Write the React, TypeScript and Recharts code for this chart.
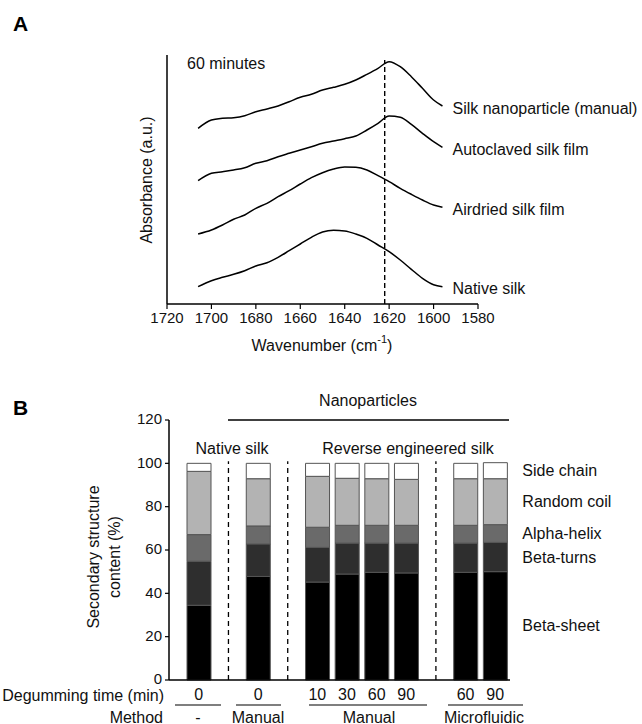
import React from 'react'
import { LineChart, Line, BarChart, Bar, XAxis, YAxis, ReferenceLine, LabelList } from 'recharts'

// Panel A: FTIR spectra (60 min), a.u. values
const wavenumbers = [1706, 1700, 1695, 1690, 1685, 1680, 1675, 1670, 1665, 1660, 1655, 1650, 1645, 1640, 1635, 1630, 1625, 1620, 1615, 1610, 1605, 1600, 1596]
const nanoManual = [175.7, 184, 185.7, 186.3, 188.3, 192.3, 195, 198, 202.3, 206.7, 209.7, 214, 216.7, 219.7, 224, 229.7, 235.7, 242.3, 237.3, 227.3, 215.7, 204, 198]
const autoclaved = [123.3, 130.7, 132.3, 134, 136.3, 140.7, 143.3, 147.3, 150.7, 154, 157.3, 160.7, 163, 165.3, 168, 174, 180.7, 188, 186.7, 179.7, 170.7, 162.3, 156.7]
const airdried = [70, 74, 79, 84.7, 89, 95.7, 100.7, 107.3, 113.3, 120, 126.3, 131.3, 135, 137, 136.7, 134, 128.3, 122.3, 115.7, 109.7, 104, 99, 96.7]
const nativeSilk = [17.3, 23.3, 26.7, 29.7, 33.3, 38, 41.3, 46.7, 53.3, 60, 66.7, 72, 73.7, 73, 70, 65.7, 59, 52.3, 44, 34.7, 25.7, 19.3, 17.3]
const spectra = [
  { key: 'nano', name: 'Silk nanoparticle (manual)', values: nanoManual },
  { key: 'auto', name: 'Autoclaved silk film', values: autoclaved },
  { key: 'air', name: 'Airdried silk film', values: airdried },
  { key: 'native', name: 'Native silk', values: nativeSilk },
]
const wnTicks = [1720, 1700, 1680, 1660, 1640, 1620, 1600, 1580]
const peakLine = 1622

// Panel B: secondary structure (%)
const degumming = ['0', '', '0', '', '10', '30', '60', '90', '', '60', '90']
const betaSheet = [34.5, null, 47.8, null, 45.2, 48.9, 49.7, 49.4, null, 49.7, 50.0]
const betaTurns = [20.3, null, 15.0, null, 16.0, 14.3, 13.5, 13.8, null, 13.5, 13.5]
const alphaHelix = [12.3, null, 8.3, null, 9.3, 8.2, 8.2, 8.2, null, 8.2, 8.2]
const randomCoil = [29.2, null, 21.8, null, 23.5, 21.7, 21.5, 21.2, null, 21.5, 21.2]
const sideChain = [3.7, null, 7.1, null, 6.0, 6.9, 7.1, 7.4, null, 7.1, 7.4]
const gapSlots = [1, 3, 8]
const pctTicks = [0, 20, 40, 60, 80, 100, 120]

const structures = [
  { key: 'bs', name: 'Beta-sheet', values: betaSheet, fill: '#000000' },
  { key: 'bt', name: 'Beta-turns', values: betaTurns, fill: '#2e2e2e' },
  { key: 'ah', name: 'Alpha-helix', values: alphaHelix, fill: '#6a6a6a' },
  { key: 'rc', name: 'Random coil', values: randomCoil, fill: '#b3b3b3' },
  { key: 'sc', name: 'Side chain', values: sideChain, fill: '#ffffff' },
]

const FONT = '"Liberation Sans", Arial, Helvetica, sans-serif'

const specData = wavenumbers.map((w, i) => {
  const row: any = { w }
  spectra.forEach(s => { row[s.key] = s.values[i] })
  return row
})

const barData = degumming.map((d, i) => {
  const row: any = { id: 'c' + i }
  structures.forEach(s => { row[s.key] = s.values[i] })
  return row
})

const endLabel = (name: string) => (props: any) => {
  const { x, y, index } = props
  if (index !== wavenumbers.length - 1) return null
  return <text x={x + 10} y={y + 2} fontSize={16} dominantBaseline="central" fill="#111">{name}</text>
}

// names of the segments, beside the right-most bar only
const sideLabel = (name: string) => (props: any) => {
  const vb = props.viewBox || props
  const x = Number(vb.x), y = Number(vb.y), width = Number(vb.width), height = Number(vb.height)
  if (!(x + width > 490)) return null
  return <text x={x + width + 15} y={y + height / 2} fontSize={16} dominantBaseline="central" fill="#111">{name}</text>
}

export default function App() {
  return (
    <div style={{ position: 'absolute', left: 0, top: 0, width: 642, height: 724, background: '#fff', fontFamily: FONT }}>
      <div style={{ position: 'absolute', left: 13, top: 12, fontSize: 21, fontWeight: 'bold' }}>A</div>
      <div style={{ position: 'absolute', left: 13, top: 396, fontSize: 21, fontWeight: 'bold' }}>B</div>

      <div style={{ position: 'absolute', left: 0, top: 0 }}>
        <LineChart width={642} height={370} data={specData} margin={{ top: 55, left: 166, right: 164, bottom: 36 }}>
          <XAxis dataKey="w" type="number" domain={[1580, 1720]} reversed ticks={wnTicks} interval={0}
            height={30} tickSize={5} tickMargin={3} axisLine={{ stroke: '#000', strokeWidth: 1.5 }}
            tickLine={{ stroke: '#000', strokeWidth: 1.2 }} tick={{ fill: '#111', fontSize: 15 }} />
          <YAxis type="number" domain={[0, 249]} width={1} tick={false} tickLine={false}
            axisLine={{ stroke: '#000', strokeWidth: 1.5 }} allowDataOverflow />
          <ReferenceLine segment={[{ x: peakLine, y: 0 }, { x: peakLine, y: 244 }]} stroke="#000" strokeWidth={1.4} strokeDasharray="5 3" />
          {spectra.map(s => (
            <Line key={s.key} dataKey={s.key} type="monotone" stroke="#000" strokeWidth={1.5} dot={false} isAnimationActive={false}>
              <LabelList dataKey={s.key} content={endLabel(s.name)} />
            </Line>
          ))}
          <text x={187} y={63} fontSize={16} dominantBaseline="central" fill="#111">60 minutes</text>
          <text x={146} y={180} fontSize={16} textAnchor="middle" dominantBaseline="central" fill="#111" transform="rotate(-90, 146, 180)">Absorbance (a.u.)</text>
          <text x={322} y={345} fontSize={16} textAnchor="middle" dominantBaseline="central" fill="#111">
            Wavenumber (cm<tspan fontSize={11} dy={-6}>-1</tspan><tspan dy={6}>)</tspan>
          </text>
        </LineChart>
      </div>

      <div style={{ position: 'absolute', left: 0, top: 370 }}>
        <BarChart width={642} height={354} data={barData} margin={{ top: 50, left: 168, right: 132, bottom: 14 }} barSize={24}>
          <XAxis dataKey="id" height={30} padding={{ left: 15, right: 0 }} tickLine={false} tickSize={4} tickMargin={5}
            interval={0} tickFormatter={(_v: any, i: number) => degumming[i]}
            axisLine={{ stroke: '#000', strokeWidth: 1.5 }} tick={{ fill: '#111', fontSize: 16 }} />
          <YAxis type="number" domain={[0, 120]} ticks={pctTicks} interval={0} width={1} tickSize={4} tickMargin={3}
            axisLine={{ stroke: '#000', strokeWidth: 1.5 }} tickLine={{ stroke: '#000', strokeWidth: 1.2 }}
            tick={{ fill: '#111', fontSize: 15, dy: -1 }} />
          {gapSlots.map(g => (
            <ReferenceLine key={g} segment={[{ x: 'c' + g, y: 0 }, { x: 'c' + g, y: 101 }]} stroke="#000" strokeWidth={1.3} strokeDasharray="5 4" />
          ))}
          {structures.map(s => (
            <Bar key={s.key} dataKey={s.key} stackId="a" fill={s.fill} stroke="#555" strokeWidth={1} isAnimationActive={false}>
              <LabelList dataKey={s.key} content={sideLabel(s.name)} />
            </Bar>
          ))}
          <text x={368} y={30} fontSize={16} textAnchor="middle" dominantBaseline="central" fill="#111">Nanoparticles</text>
          <line x1={228} x2={509} y1={50} y2={50} stroke="#000" strokeWidth={1.3} />
          <text x={232} y={78} fontSize={16} textAnchor="middle" dominantBaseline="central" fill="#111">Native silk</text>
          <text x={408} y={78} fontSize={16} textAnchor="middle" dominantBaseline="central" fill="#111">Reverse engineered silk</text>
          <text x={93} y={187} fontSize={16} textAnchor="middle" dominantBaseline="central" fill="#111" transform="rotate(-90, 93, 187)">Secondary structure</text>
          <text x={114} y={187} fontSize={16} textAnchor="middle" dominantBaseline="central" fill="#111" transform="rotate(-90, 114, 187)">content (%)</text>
          <text x={164} y={325} fontSize={16} textAnchor="end" dominantBaseline="central" fill="#111">Degumming time (min)</text>
          <text x={163} y={347} fontSize={16} textAnchor="end" dominantBaseline="central" fill="#111">Method</text>
          <line x1={175} x2={221} y1={335} y2={335} stroke="#000" strokeWidth={1.2} />
          <line x1={236} x2={281} y1={335} y2={335} stroke="#000" strokeWidth={1.2} />
          <line x1={309} x2={427} y1={335} y2={335} stroke="#000" strokeWidth={1.2} />
          <line x1={448} x2={523} y1={335} y2={335} stroke="#000" strokeWidth={1.2} />
          <text x={198} y={347} fontSize={16} textAnchor="middle" dominantBaseline="central" fill="#111">-</text>
          <text x={258} y={347} fontSize={16} textAnchor="middle" dominantBaseline="central" fill="#111">Manual</text>
          <text x={369} y={347} fontSize={16} textAnchor="middle" dominantBaseline="central" fill="#111">Manual</text>
          <text x={484} y={347} fontSize={16} textAnchor="middle" dominantBaseline="central" fill="#111">Microfluidic</text>
        </BarChart>
      </div>
    </div>
  )
}
